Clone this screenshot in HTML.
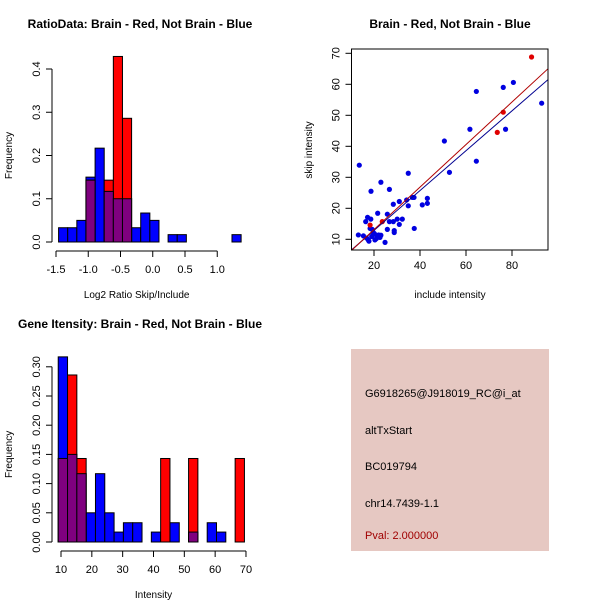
<!DOCTYPE html>
<html><head><meta charset="utf-8"><style>
body{margin:0;background:#fff}
svg{display:block;font-family:"Liberation Sans",sans-serif}
</style></head><body>
<svg id="s" width="600" height="600" xmlns="http://www.w3.org/2000/svg"></svg>
<script>
// Ratio histogram data
const ratioBinStart = -1.46, ratioBinWidth = 0.1415;
const ratioBlue = [0.033,0.033,0.05,0.15,0.217,0.117,0.1,0.1,0.033,0.067,0.05,0,0.017,0.017,0,0,0,0,0,0.017];
const ratioRed  = [0,0,0,0.143,0,0.143,0.429,0.286,0,0,0,0,0,0,0,0,0,0,0,0];
const ratioXTicks = [-1.5,-1.0,-0.5,0.0,0.5,1.0];
const ratioXLabels = ["-1.5","-1.0","-0.5","0.0","0.5","1.0"];
const ratioYTicks = [0,0.1,0.2,0.3,0.4];
const ratioYLabels = ["0.0","0.1","0.2","0.3","0.4"];
// Intensity histogram data
const intBinStart = 9.1, intBinWidth = 3.02;
const intBlue = [0.317,0.15,0.117,0.05,0.117,0.05,0.017,0.033,0.033,0,0.017,0,0.033,0,0.017,0,0.033,0.017,0,0];
const intRed  = [0.143,0.286,0.143,0,0,0,0,0,0,0,0,0.143,0,0,0.143,0,0,0,0,0.143];
const intXTicks = [10,20,30,40,50,60,70];
const intYTicks = [0,0.05,0.1,0.15,0.2,0.25,0.3];
const intYLabels = ["0.00","0.05","0.10","0.15","0.20","0.25","0.30"];
// Scatter data
const blueX = [13.6,13.2,15.4,16.4,17.2,18.7,18.6,17.5,18.3,19,19.7,20.4,21.2,21.6,23,23,24.8,25.8,25.8,26.7,26.7,28.4,28.4,28.8,28.8,30.1,31,31,32.3,34.2,34.9,34.9,36.7,37.4,37.5,41,43.2,43.2,50.6,52.8,61.7,64.5,64.5,76.2,77.2,80.6,92.9,19.2,20.2,21,22,22.6,17.8,16.8];
const blueY = [33.9,11.4,11.1,15.7,17.1,25.5,16.5,9.8,13.5,10.9,12.2,9.8,11.1,18.4,28.4,11.3,9,18.1,13.2,26.1,15.7,21.3,15.7,12.8,12.2,16.5,22.2,14.8,16.5,22.7,31.3,20.8,23.5,23.5,13.5,21.1,21.6,23.2,41.7,31.6,45.5,57.7,35.2,59,45.5,60.6,53.9,13.2,11.8,10.2,11.4,10.6,9.4,10.4];
const redX = [18.3,23.6,73.6,76.2,88.5];
const redY = [14.6,15.7,44.5,51,68.8];
const fitRed = [-0.6,0.686];   // intercept, slope
const fitBlue = [0.0,0.643];
const scXTicks = [20,40,60,80];
const scYTicks = [10,20,30,40,50,60,70];

const S = document.getElementById('s');
const NS = 'http://www.w3.org/2000/svg';
function mk(tag, attrs, parent){const e=document.createElementNS(NS,tag);for(const k in attrs)e.setAttribute(k,attrs[k]);(parent||S).appendChild(e);return e;}
function txt(str,x,y,o,parent){const e=mk('text',Object.assign({x:x,y:y,'font-size':11,'text-anchor':'middle',fill:'#000'},o||{}),parent);e.textContent=str;return e;}

function hist(name, title, xlab, bx0, bw, blue, red, xs, ys, xticks, xlabels, yticks, ylabels, ty){
  const g = mk('g',{});
  
  
  const n = blue.length;
  const rect=(v,i,col,nm)=>{ if(v<=0) return;
    const x1=xs(bx0+i*bw), x2=xs(bx0+(i+1)*bw);
    const r=mk('rect',{x:x1,y:ys(v),width:x2-x1,height:ys(0)-ys(v),fill:col,stroke:'#000','stroke-width':1},g);
    
    
  };
  for(let i=0;i<n;i++) rect(blue[i],i,'#0000ff','blue-bar');
  for(let i=0;i<n;i++) rect(red[i],i,'#ff0000','red-bar');
  for(let i=0;i<n;i++) rect(Math.min(blue[i],red[i]),i,'#7f007f','overlap-bar');
  // x axis
  const ax=mk('g',{},g);
  
  
  const ay0=ys(0)+9;
  mk('line',{x1:xs(xticks[0]),x2:xs(xticks[xticks.length-1]),y1:ay0,y2:ay0,stroke:'#000'},ax);
  xticks.forEach((t,i)=>{mk('line',{x1:xs(t),x2:xs(t),y1:ay0,y2:ay0+6,stroke:'#000'},ax);txt(xlabels[i],xs(t),ay0+22,{},ax);});
  // y axis
  const yx=52;
  const yg=mk('g',{},g);
  
  
  mk('line',{x1:yx,x2:yx,y1:ys(yticks[0]),y2:ys(yticks[yticks.length-1]),stroke:'#000'},yg);
  yticks.forEach((t,i)=>{mk('line',{x1:yx,x2:yx-6,y1:ys(t),y2:ys(t),stroke:'#000'},yg);txt(ylabels[i],yx-12,ys(t),{transform:`rotate(-90 ${yx-12} ${ys(t)})`},yg);});
  const t1=txt(title,140,ty,{'font-weight':'bold','font-size':12},g);
  
  
  const xl=txt(xlab,xs((xticks[0]+xticks[xticks.length-1])/2),ay0+47,{'font-size':10},g);
  
  
  const cy=(ys(yticks[0])+ys(yticks[yticks.length-1]))/2;
  const yl=txt('Frequency',12,cy,{'font-size':10,transform:`rotate(-90 12 ${cy})`},g);
  
  
}
// Top-left
hist('ratio-histogram','RatioData: Brain - Red, Not Brain - Blue','Log2 Ratio Skip/Include',
  ratioBinStart,ratioBinWidth,ratioBlue,ratioRed,
  v=>56+(v+1.5)*64.5, v=>242-v*432.5, ratioXTicks,ratioXLabels,ratioYTicks,ratioYLabels,28);
// Bottom-left
hist('intensity-histogram','Gene Itensity: Brain - Red, Not Brain - Blue','Intensity',
  intBinStart,intBinWidth,intBlue,intRed,
  v=>61+(v-10)*3.083, v=>542-v*584, intXTicks,intXTicks.map(String),intYTicks,intYLabels,328);

// Scatter
(function(){
  const g=mk('g',{});
  
  
  const xs=v=>374+(v-20)*2.3, ys=v=>239.3-(v-10)*3.1;
  const L=351.5,R=548,T=49,B=250;
  const clip=mk('clipPath',{id:'cp'},g);mk('rect',{x:L,y:T,width:R-L,height:B-T},clip);
  blueX.forEach((x,i)=>{const c=mk('circle',{cx:xs(x),cy:ys(blueY[i]),r:2.6,fill:'#0000e0'},g);
    });
  redX.forEach((x,i)=>{const c=mk('circle',{cx:xs(x),cy:ys(redY[i]),r:2.6,fill:'#e00000'},g);
    });
  const x0=5,x1=100;
  const lb=mk('line',{x1:xs(x0),y1:ys(fitBlue[0]+fitBlue[1]*x0),x2:xs(x1),y2:ys(fitBlue[0]+fitBlue[1]*x1),stroke:'#000090','clip-path':'url(#cp)'},g);
  
  const lr=mk('line',{x1:xs(x0),y1:ys(fitRed[0]+fitRed[1]*x0),x2:xs(x1),y2:ys(fitRed[0]+fitRed[1]*x1),stroke:'#b00000','clip-path':'url(#cp)'},g);
  
  mk('rect',{x:L,y:T,width:R-L,height:B-T,fill:'none',stroke:'#000'},g);
  scXTicks.forEach(t=>{mk('line',{x1:xs(t),x2:xs(t),y1:B,y2:B+6,stroke:'#000'},g);txt(String(t),xs(t),B+19,{},g);});
  scYTicks.forEach(t=>{mk('line',{x1:L,x2:L-6,y1:ys(t),y2:ys(t),stroke:'#000'},g);txt(String(t),L-12,ys(t),{transform:`rotate(-90 ${L-12} ${ys(t)})`},g);});
  const t=txt('Brain - Red, Not Brain - Blue',450,28,{'font-weight':'bold','font-size':12},g);
  
  const xl=txt('include intensity',450,298,{'font-size':10},g);
  
  const yl=txt('skip intensity',312,150,{'font-size':10,transform:'rotate(-90 312 150)'},g);
  
})();

// Info box
(function(){
  const g=mk('g',{});
  
  
  mk('rect',{x:351,y:349,width:198,height:202,fill:'#e6c8c2'},g);
  const lines=[['G6918265@J918019_RC@i_at',397,'#000'],['altTxStart',434,'#000'],['BC019794',470,'#000'],['chr14.7439-1.1',507,'#000'],['Pval: 2.000000',539,'#a00000']];
  lines.forEach(l=>{const e=txt(l[0],365,l[1],{'text-anchor':'start','font-size':11,fill:l[2]},g);
    });
})();
</script>
</body></html>
